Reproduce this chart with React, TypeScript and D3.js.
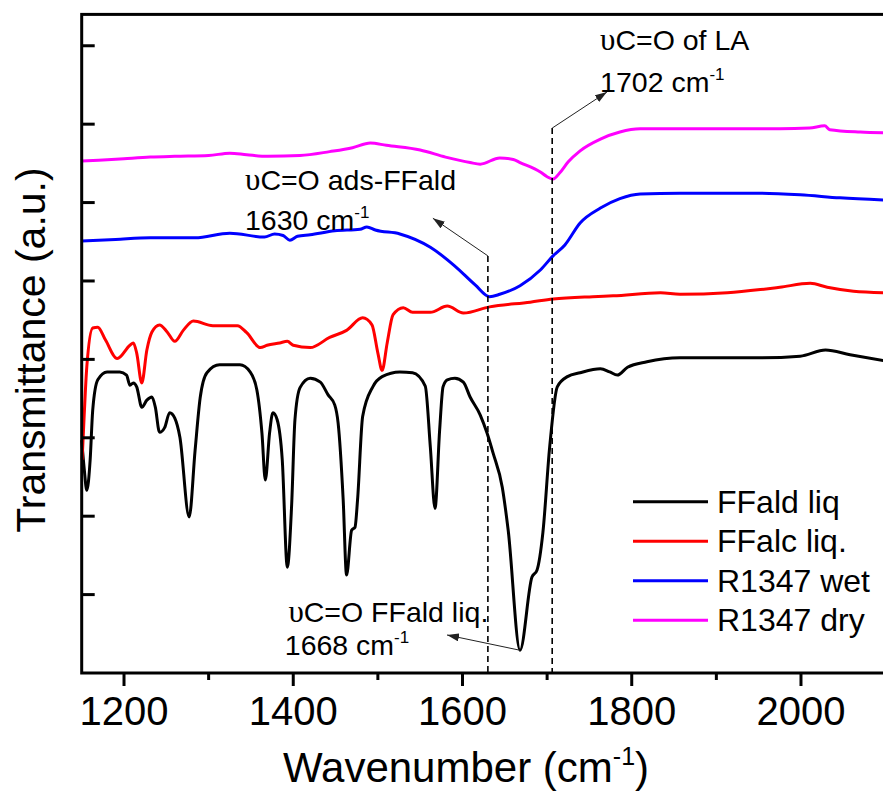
import React from 'react';
import * as d3 from 'd3';

const W = 883;
const H = 797;

const xMajorTicks = [1200, 1400, 1600, 1800, 2000];
const xMinorTicks = [1300, 1500, 1700, 1900, 2100];
const yTicks = [1, 2, 3, 4, 5, 6, 7, 8];

const ffaldLiq: [number, number][] = [
  [1150, 2.97], [1153, 2.6], [1156, 2.33], [1160, 2.72], [1163, 3.35], [1169, 3.74], [1180, 3.84],
  [1195, 3.84], [1203, 3.8], [1207, 3.67], [1211, 3.7], [1215, 3.65], [1221, 3.39], [1227, 3.48],
  [1233, 3.52], [1237, 3.39], [1242, 3.07], [1248, 3.13], [1254, 3.32], [1260, 3.25], [1266, 3.01],
  [1277, 1.99], [1284, 2.84], [1290, 3.51], [1298, 3.83], [1313, 3.93], [1337, 3.93], [1349, 3.84],
  [1357, 3.61], [1363, 3.06], [1367, 2.46], [1372, 3.06], [1376, 3.32], [1381, 3.23], [1387, 2.72],
  [1393, 1.35], [1398, 2.12], [1402, 3.23], [1408, 3.64], [1420, 3.76], [1432, 3.71], [1441, 3.55],
  [1449, 3.42], [1453, 3.19], [1459, 2.21], [1463, 1.25], [1469, 1.82], [1473, 1.86], [1476, 2.21],
  [1482, 3.27], [1494, 3.65], [1505, 3.78], [1526, 3.84], [1541, 3.83], [1556, 3.66], [1562, 2.88],
  [1567.5, 2.1], [1573, 3.1], [1577, 3.65], [1582, 3.74], [1591, 3.76], [1601, 3.71], [1609, 3.52],
  [1621, 3.29], [1629, 3.06], [1636, 2.81], [1647, 2.37], [1654, 1.82], [1668, 0.29], [1682, 1.22],
  [1688, 1.31], [1695, 1.79], [1703, 2.88], [1712, 3.65], [1724, 3.78], [1739, 3.83], [1763, 3.88],
  [1774, 3.84], [1783, 3.8], [1795, 3.9], [1818, 3.97], [1857, 4.02], [1881, 4.02], [1952, 4.02],
  [1999, 4.04], [2029, 4.12], [2058, 4.06], [2100, 3.98],
];

const ffalcLiq: [number, number][] = [
  [1150.5, 2.72], [1153, 3.3], [1156, 3.9], [1163, 4.4], [1169, 4.41], [1178, 4.25], [1192, 4.01],
  [1207, 4.18], [1211, 4.21], [1215, 4.08], [1221, 3.7], [1227, 4.12], [1233, 4.35], [1242, 4.44],
  [1251, 4.35], [1260, 4.23], [1270, 4.37], [1282, 4.49], [1305, 4.43], [1334, 4.43], [1345, 4.34],
  [1361, 4.15], [1369, 4.18], [1384, 4.21], [1393, 4.23], [1400, 4.18], [1420, 4.15], [1443, 4.28],
  [1463, 4.37], [1482, 4.53], [1493, 4.44], [1500, 4.08], [1505, 3.86], [1511, 4.21], [1518, 4.57],
  [1530, 4.66], [1541, 4.6], [1562, 4.6], [1582, 4.68], [1601, 4.59], [1632, 4.67], [1680, 4.73],
  [1707, 4.77], [1754, 4.8], [1778, 4.81], [1834, 4.85], [1857, 4.83], [1913, 4.85], [1952, 4.89],
  [1975, 4.92], [2011, 4.97], [2031, 4.92], [2062, 4.87], [2100, 4.85],
];

const r1347Wet: [number, number][] = [
  [1150, 5.51], [1190, 5.53], [1231, 5.55], [1284, 5.55], [1325, 5.61], [1366, 5.56], [1378, 5.6],
  [1388, 5.58], [1396, 5.52], [1405, 5.57], [1420, 5.59], [1449, 5.64], [1479, 5.66], [1487, 5.69],
  [1497, 5.65], [1526, 5.6], [1562, 5.43], [1591, 5.19], [1615, 4.95], [1632, 4.8], [1644, 4.83],
  [1668, 4.94], [1692, 5.14], [1707, 5.32], [1721, 5.46], [1739, 5.74], [1763, 5.93], [1786, 6.05],
  [1810, 6.11], [1857, 6.12], [1952, 6.12], [1999, 6.1], [2046, 6.06], [2100, 6.03],
];

const r1347Dry: [number, number][] = [
  [1150, 6.53], [1170, 6.54], [1200, 6.56], [1231, 6.58], [1260, 6.59], [1300, 6.6], [1325, 6.63],
  [1345, 6.61], [1370, 6.59], [1408, 6.6], [1443, 6.65], [1470, 6.7], [1491, 6.76], [1510, 6.73],
  [1550, 6.67], [1580, 6.58], [1609, 6.51], [1621, 6.49], [1644, 6.57], [1660, 6.55], [1668, 6.51],
  [1692, 6.39], [1700, 6.33], [1707, 6.3], [1715, 6.38], [1725, 6.52], [1739, 6.66], [1763, 6.81],
  [1786, 6.9], [1810, 6.94], [1881, 6.94], [1975, 6.94], [2010, 6.95], [2028, 6.98], [2034, 6.93],
  [2070, 6.9], [2100, 6.89],
];

const seriesNames = ['FFald liq', 'FFalc liq.', 'R1347 wet', 'R1347 dry'];
const seriesData = [ffaldLiq, ffalcLiq, r1347Wet, r1347Dry];
const seriesColors = ['#000000', '#ff0000', '#0000ff', '#ff00ff'];

const markerLines = [1630, 1706];
const markerTops = [5.32, 6.95];

const FONT = "'Liberation Sans', Arial, sans-serif";
const SERIF = "'Liberation Serif', 'DejaVu Serif', serif";

export default function App() {
  const x = d3.scaleLinear().domain([1150, 2100]).range([81.7, 885.6]);
  const y = d3.scaleLinear().domain([0, 8.4]).range([673, 14.4]);
  const line = d3
    .line<[number, number]>()
    .x((d) => x(d[0]))
    .y((d) => y(d[1]))
    .curve(d3.curveMonotoneX);

  const x0 = x(1150);
  const y0 = y(0);

  const upsilon = (
    <tspan fontFamily={SERIF} fontSize={31}>υ</tspan>
  );
  const AF = 28.5;

  return (
    <svg
      width={W}
      height={H}
      viewBox={`0 0 ${W} ${H}`}
      style={{ position: 'absolute', left: 0, top: 0, display: 'block', background: '#fff' }}
      fontFamily={FONT}
    >
      <defs>
        <marker
          id="arr"
          viewBox="0 0 12 8"
          refX={12}
          refY={4}
          markerWidth={12}
          markerHeight={8}
          markerUnits="userSpaceOnUse"
          orient="auto"
        >
          <path d="M0,0 L12,4 L0,8 z" fill="#222" />
        </marker>
      </defs>
      <rect x={0} y={0} width={W} height={H} fill="#fff" />

      {/* curves */}
      {seriesData.map((d, i) => (
        <path key={i} d={line(d) || ''} fill="none" stroke={seriesColors[i]} strokeWidth={3} strokeLinejoin="round" />
      ))}

      {/* frame */}
      <rect x={x0} y={y(8.4)} width={x(2100) - x0} height={y0 - y(8.4)} fill="none" stroke="#000" strokeWidth={3} />

      {/* y ticks (inward) */}
      {yTicks.map((t) => (
        <line key={t} x1={x0} x2={x0 + 13} y1={y(t)} y2={y(t)} stroke="#000" strokeWidth={3} />
      ))}
      {/* x ticks (outward) */}
      {xMajorTicks.map((t) => (
        <g key={t}>
          <line x1={x(t)} x2={x(t)} y1={y0} y2={y0 + 13} stroke="#000" strokeWidth={3} />
          <text x={x(t)} y={725} textAnchor="middle" fontSize={40}>{t}</text>
        </g>
      ))}
      {xMinorTicks.map((t) => (
        <line key={t} x1={x(t)} x2={x(t)} y1={y0} y2={y0 + 7} stroke="#000" strokeWidth={3} />
      ))}

      {/* axis titles */}
      <text x={466} y={782} textAnchor="middle" fontSize={42}>
        Wavenumber (cm<tspan dy={-17} fontSize={25}>-1</tspan><tspan dy={17}>)</tspan>
      </text>
      <text transform="translate(45,350) rotate(-90)" textAnchor="middle" fontSize={41}>
        Transmittance (a.u.)
      </text>

      {/* dashed marker lines */}
      {markerLines.map((m, i) => (
        <line key={m} x1={x(m)} x2={x(m)} y1={y(markerTops[i])} y2={y0} stroke="#000" strokeWidth={1.6} strokeDasharray="6,4" />
      ))}

      {/* arrows */}
      <line x1={x(1706)} y1={y(6.95)} x2={x(1770.7)} y2={y(7.41)} stroke="#222" strokeWidth={1} markerEnd="url(#arr)" />
      <line x1={x(1630)} y1={y(5.32)} x2={x(1565)} y2={y(5.8)} stroke="#222" strokeWidth={1} markerEnd="url(#arr)" />
      <line x1={x(1668)} y1={y(0.29)} x2={x(1581.7)} y2={y(0.485)} stroke="#222" strokeWidth={1} markerEnd="url(#arr)" />

      {/* annotations */}
      <text x={x(1762.6)} y={y(7.95)} fontSize={AF}>
        {upsilon}C=O of LA
      </text>
      <text x={x(1762.6)} y={y(7.41)} fontSize={AF}>
        1702 cm<tspan dy={-12} fontSize={17}>-1</tspan>
      </text>
      <text x={x(1343)} y={y(6.16)} fontSize={AF}>
        {upsilon}C=O ads-FFald
      </text>
      <text x={x(1343)} y={y(5.65)} fontSize={AF}>
        1630 cm<tspan dy={-12} fontSize={17}>-1</tspan>
      </text>
      <text x={x(1630.5)} y={y(0.65)} fontSize={AF} textAnchor="end">
        {upsilon}C=O FFald liq.
      </text>
      <text x={x(1390)} y={y(0.23)} fontSize={AF}>
        1668 cm<tspan dy={-12} fontSize={17}>-1</tspan>
      </text>

      {/* legend */}
      {seriesNames.map((n, i) => {
        const ly = 501.7 + i * 39.5;
        return (
          <g key={n}>
            <line x1={633} x2={708} y1={ly} y2={ly} stroke={seriesColors[i]} strokeWidth={3} />
            <text x={717} y={ly + 11} fontSize={32}>{n}</text>
          </g>
        );
      })}
    </svg>
  );
}
